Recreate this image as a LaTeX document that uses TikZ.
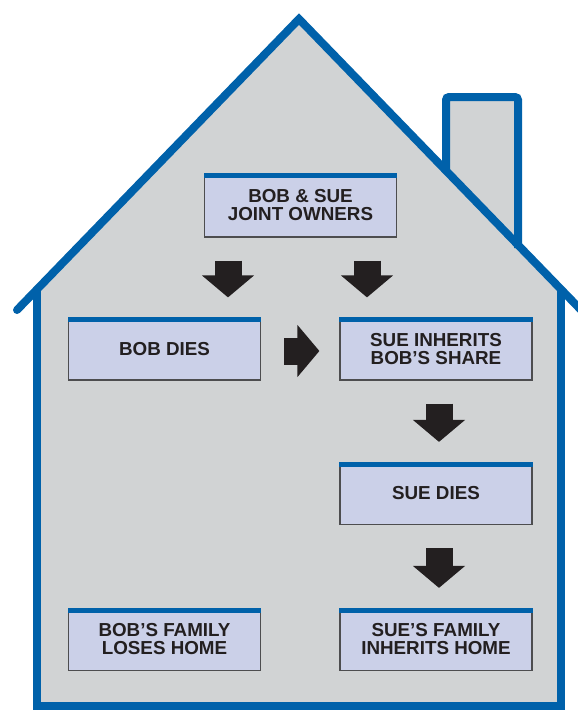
\documentclass[tikz,border=0pt]{standalone}
\usepackage{fontspec}
\setmainfont{Liberation Sans}
\usepackage{tikz}
\usetikzlibrary{arrows.meta, positioning, calc}
\definecolor{houseblue}{RGB}{0, 97, 170}
\definecolor{wallgray}{RGB}{209, 211, 212}
\definecolor{boxlilac}{RGB}{203, 208, 232}
\definecolor{boxedge}{RGB}{77, 77, 79}
\definecolor{inkblack}{RGB}{35, 31, 32}

\begin{document}
\begin{tikzpicture}[
    x=1pt, y=-1pt,
    outline/.style={draw=houseblue, line width=8pt},
    stagebox/.style={
        rectangle, draw=boxedge, fill=boxlilac,
        line width=1.2pt, inner sep=0pt,
        minimum width=192pt, minimum height=62pt,
        align=center, text=inkblack,
        font=\fontsize{18.8}{18}\selectfont\bfseries
    },
    topbar/.style={fill=houseblue},
    blockarrow/.style={
        -{Triangle[length=22pt, width=51pt]},
        line width=27pt, draw=inkblack,
        shorten <=23pt, shorten >=20pt
    }
]
\clip (0,0) rectangle (578,710);

% ==============================================================================
% HOUSE: WALLS, ROOF & CHIMNEY
% ==============================================================================
\fill[wallgray] (37,706) -- (37,289) -- (299,19) -- (561,289) -- (561,706) -- cycle;
\fill[wallgray] (446,175) -- (446,97) -- (518,97) -- (518,250) -- cycle;
\draw[outline, rounded corners=3pt] (446,172) -- (446,97) -- (518,97) -- (518,248);
\draw[outline, line cap=round] (17,310) -- (299,19) -- (583,312);
\draw[outline] (37,289) -- (37,706) -- (561,706) -- (561,289);

% ==============================================================================
% OWNERSHIP STEPS
% ==============================================================================
\node[stagebox, minimum height=63pt] (joint) at (300.5,205.5) {BOB \& SUE\\JOINT OWNERS};
\node[stagebox] (bobdies) at (164.5,349) {BOB DIES};
\node[stagebox] (sueinherits) at (436,349) {SUE INHERITS\\BOB’S SHARE};
\node[stagebox] (suedies) at (436,493.5) {SUE DIES};
\node[stagebox] (bobfamily) at (164.5,639.5) {BOB’S FAMILY\\LOSES HOME};
\node[stagebox] (suefamily) at (436,639.5) {SUE’S FAMILY\\INHERITS HOME};

\foreach \n in {joint, bobdies, sueinherits, suedies, bobfamily, suefamily}
    \fill[topbar] (\n.north west) rectangle ([yshift=-5pt]\n.north east);

% ==============================================================================
% BLOCK ARROWS
% ==============================================================================
\coordinate (leftcol) at (228,0);
\coordinate (rightcol) at (367,0);
\coordinate (sidecol) at (439,0);

\draw[blockarrow] (joint.south -| leftcol) -- (bobdies.north -| leftcol);
\draw[blockarrow] (joint.south -| rightcol) -- (sueinherits.north -| rightcol);
\draw[blockarrow] ([yshift=-2pt]bobdies.east) -- ([yshift=-2pt]sueinherits.west);
\draw[blockarrow] (sueinherits.south -| sidecol) -- (suedies.north -| sidecol);
\draw[blockarrow] (suedies.south -| sidecol) -- (suefamily.north -| sidecol);

\end{tikzpicture}
\end{document}
